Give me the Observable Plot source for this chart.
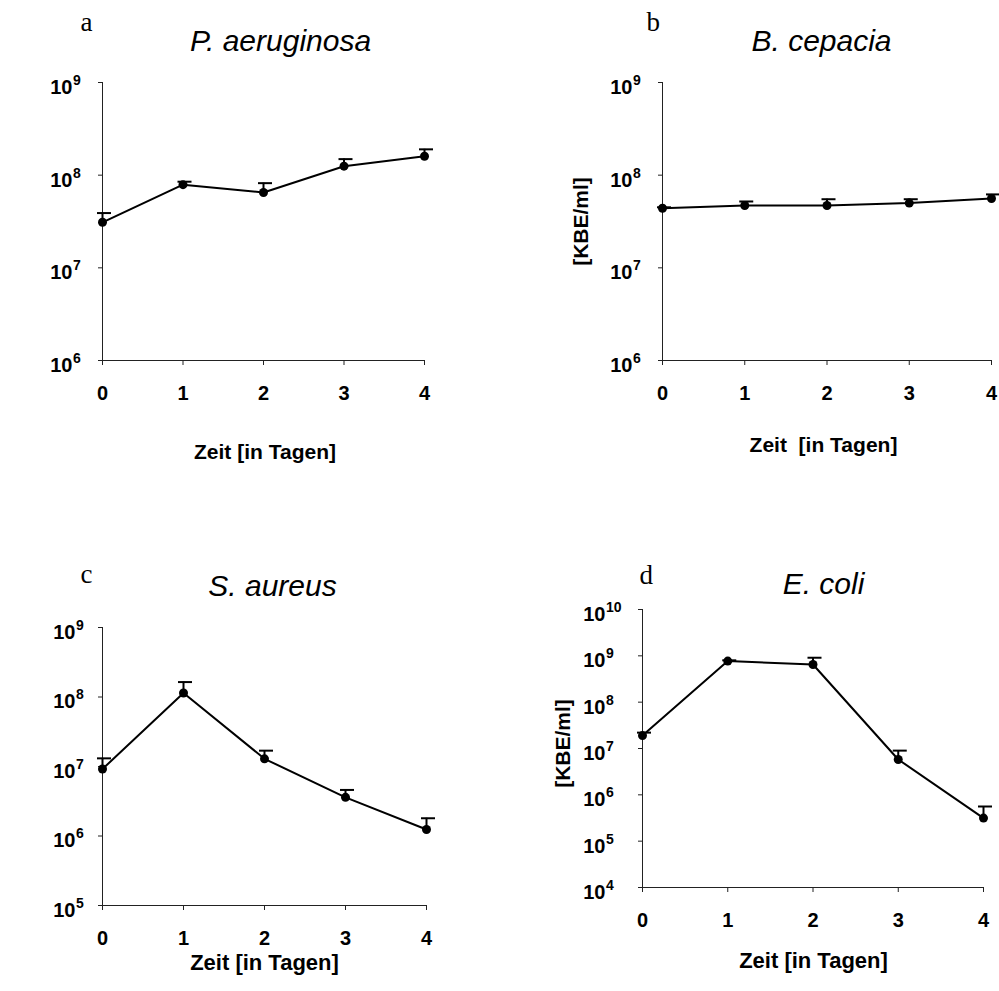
<!DOCTYPE html>
<html>
<head>
<meta charset="utf-8">
<script src="https://cdn.jsdelivr.net/npm/d3@7"></script>
<script src="https://cdn.jsdelivr.net/npm/@observablehq/plot@0.6"></script>
<style>
  html, body { margin: 0; padding: 0; background: #fff; }
  #wrap { position: relative; width: 999px; height: 991px; overflow: hidden; background: #fff; }
  #wrap > svg, #wrap > figure { position: absolute; margin: 0; }
</style>
</head>
<body>
<div id="wrap"></div>
<script>
// ---------- data ----------
const days = [0, 1, 2, 3, 4];
const dayTicks = ["0", "1", "2", "3", "4"];

const aeruginosaMean = [3.1e7, 7.9e7, 6.5e7, 1.25e8, 1.6e8];
const aeruginosaTop  = [3.9e7, 8.5e7, 8.2e7, 1.49e8, 1.9e8];

const cepaciaMean = [4.4e7, 4.7e7, 4.7e7, 5.0e7, 5.6e7];
const cepaciaTop  = [4.5e7, 5.2e7, 5.5e7, 5.5e7, 6.2e7];

const aureusMean = [9.2e6, 1.14e8, 1.29e7, 3.6e6, 1.24e6];
const aureusTop  = [1.31e7, 1.64e8, 1.69e7, 4.6e6, 1.8e6];

const coliMean = [1.9e7, 7.7e8, 6.5e8, 5.8e6, 3.15e5];
const coliTop  = [2.2e7, 8.0e8, 9.1e8, 9.0e6, 5.6e5];

const panelLetters = ["a", "b", "c", "d"];
const panelTitles = ["P. aeruginosa", "B. cepacia", "S. aureus", "E. coli"];
const xLabels = ["Zeit [in Tagen]", "Zeit\u00a0 [in Tagen]", "Zeit [in Tagen]", "Zeit [in Tagen]"];
const yLabel = "[KBE/ml]";
const yExpA = [6, 7, 8, 9];
const yExpB = [6, 7, 8, 9];
const yExpC = [5, 6, 7, 8, 9];
const yExpD = [4, 5, 6, 7, 8, 9, 10];

// ---------- layout ----------
const SANS = "'Liberation Sans', Arial, Helvetica, sans-serif";
const SERIF = "'Liberation Serif', 'Times New Roman', serif";

const capSymbol = { draw(ctx) { ctx.moveTo(-7, 0); ctx.lineTo(7, 0); } };

function panel(cfg) {
  const rows = days.map((d, i) => ({ day: d, mean: cfg.mean[i], top: cfg.top[i] }));
  const ticks = cfg.exps.map(e => Math.pow(10, e));
  const lo = ticks[0], hi = ticks[ticks.length - 1];
  const marks = [
    Plot.ruleX([0], { stroke: "#222", strokeWidth: 1 }),
    Plot.ruleY([lo], { stroke: "#222", strokeWidth: 1 }),
    Plot.axisX({ ticks: days, tickFormat: (d) => dayTicks[d], tickSize: 5, tickPadding: 20,
      fontSize: 20, fontWeight: "bold", label: null, stroke: "#222" }),
    Plot.axisY({ ticks, tickFormat: () => "", tickSize: 4, label: null, stroke: "#222" }),
    Plot.text(cfg.exps, { y: (e) => Math.pow(10, e), frameAnchor: "left", text: () => "10",
      textAnchor: "end", lineAnchor: "middle", dx: -cfg.gap, dy: 5, fontSize: 20, fontWeight: "bold" }),
    Plot.text(cfg.exps, { y: (e) => Math.pow(10, e), frameAnchor: "left", text: (e) => String(e),
      textAnchor: "start", lineAnchor: "middle", dx: -cfg.gap + 0.5, dy: -2, fontSize: 14, fontWeight: "bold" }),
    Plot.ruleX(rows, { x: "day", y1: "mean", y2: "top", stroke: "black", strokeWidth: 2 }),
    Plot.dot(rows, { x: "day", y: "top", symbol: capSymbol, stroke: "black", strokeWidth: 2, dx: 1.5 }),
    Plot.line(rows, { x: "day", y: "mean", stroke: "black", strokeWidth: 2 }),
    Plot.dot(rows, { x: "day", y: "mean", r: 4.5, fill: "black", stroke: "none" }),
    Plot.text([cfg.title], { frameAnchor: "top", text: d => d, dx: cfg.titleDx, dy: cfg.titleDy,
      lineAnchor: "bottom", fontSize: 30, fontStyle: "italic", fontWeight: "normal" }),
    Plot.text([cfg.letter], { frameAnchor: "top-left", text: d => d, textAnchor: "start", dx: cfg.letterDx, dy: cfg.letterDy,
      lineAnchor: "bottom", fontSize: 27, fontFamily: SERIF }),
    Plot.text([cfg.xLabel], { frameAnchor: "bottom", text: d => d, dx: cfg.xlDx, dy: cfg.xlDy,
      lineAnchor: "middle", fontSize: cfg.xlSize, fontWeight: "bold" })
  ];
  if (cfg.showY) {
    marks.push(Plot.text([yLabel], { frameAnchor: "left", text: d => d, rotate: -90, dx: cfg.ylDx, dy: cfg.ylDy,
      textAnchor: "middle", lineAnchor: "middle", fontSize: 21, fontWeight: "bold" }));
  }
  const svg = Plot.plot({
    width: cfg.w, height: cfg.h,
    marginLeft: cfg.ml, marginRight: cfg.mr, marginTop: cfg.mt, marginBottom: cfg.mb,
    x: { type: "linear", domain: [0, 4] },
    y: { type: "log", domain: [lo, hi] },
    style: { fontFamily: SANS, background: "white", color: "black", overflow: "visible" },
    marks
  });
  svg.style.left = cfg.left + "px";
  svg.style.top = cfg.top0 + "px";
  document.getElementById("wrap").appendChild(svg);
}

panel({ left: 0, top0: 0, w: 500, h: 480, ml: 102, mr: 76, mt: 82, mb: 120,
  mean: aeruginosaMean, top: aeruginosaTop, exps: yExpA, gap: 30,
  title: panelTitles[0], titleDx: 17, titleDy: -32, letter: panelLetters[0], letterDx: -22, letterDy: -52,
  xLabel: xLabels[0], xlDx: 1.5, xlDy: 92, xlSize: 21, showY: false });

panel({ left: 500, top0: 0, w: 499, h: 480, ml: 162, mr: 8, mt: 82, mb: 120,
  mean: cepaciaMean, top: cepaciaTop, exps: yExpB, gap: 30,
  title: panelTitles[1], titleDx: -5.5, titleDy: -32, letter: panelLetters[1], letterDx: -16, letterDy: -52,
  xLabel: xLabels[1], xlDx: -3.5, xlDy: 85, xlSize: 21, showY: true, ylDx: -81, ylDy: 0 });

panel({ left: 0, top0: 500, w: 500, h: 491, ml: 102, mr: 74, mt: 127, mb: 86,
  mean: aureusMean, top: aureusTop, exps: yExpC, gap: 27,
  title: panelTitles[2], titleDx: 8, titleDy: -32, letter: panelLetters[2], letterDx: -22, letterDy: -45,
  xLabel: xLabels[2], xlDx: 0, xlDy: 57, xlSize: 22, showY: false });

panel({ left: 500, top0: 500, w: 499, h: 491, ml: 142, mr: 16, mt: 109, mb: 104,
  mean: coliMean, top: coliTop, exps: yExpD, gap: 37,
  title: panelTitles[3], titleDx: 10.5, titleDy: -16, letter: panelLetters[3], letterDx: -3, letterDy: -26,
  xLabel: xLabels[3], xlDx: 0.5, xlDy: 73, xlSize: 22, showY: true, ylDx: -79, ylDy: -5 });
</script>
</body>
</html>
